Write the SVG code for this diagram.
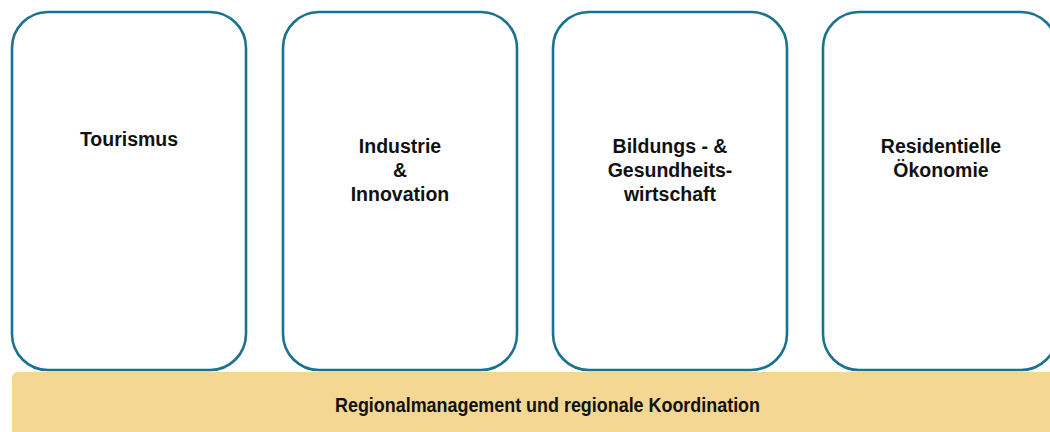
<svg xmlns="http://www.w3.org/2000/svg" width="1050" height="432" viewBox="0 0 1050 432">
<style>
.box{fill:#ffffff;stroke:#1a7290;stroke-width:2.6}
.t{font-family:"Liberation Sans",Arial,sans-serif;font-weight:bold;font-size:19.5px;fill:#111;text-anchor:middle}
.bt{font-family:"Liberation Sans",Arial,sans-serif;font-weight:bold;font-size:19.5px;fill:#111}
</style>
<rect width="1050" height="432" fill="#ffffff"/>
<g id="bar">
<rect x="12" y="372" width="1060" height="70" rx="6" fill="#f4d792"/>
<text class="bt" x="335" y="412" textLength="425" lengthAdjust="spacingAndGlyphs">Regionalmanagement und regionale Koordination</text>
</g>
<g id="tourismus">
<rect class="box" x="12" y="12" width="234" height="358" rx="36"/>
<text class="t" x="129" y="146">Tourismus</text>
</g>
<g id="industrie">
<rect class="box" x="283" y="12" width="234" height="358" rx="36"/>
<text class="t" x="400" y="153">Industrie</text>
<text class="t" x="400" y="177">&amp;</text>
<text class="t" x="400" y="201">Innovation</text>
</g>
<g id="bildung">
<rect class="box" x="553" y="12" width="234" height="358" rx="36"/>
<text class="t" x="670" y="153">Bildungs - &amp;</text>
<text class="t" x="670" y="177">Gesundheits-</text>
<text class="t" x="670" y="201">wirtschaft</text>
</g>
<g id="residentielle">
<rect class="box" x="823" y="12" width="234" height="358" rx="36"/>
<text class="t" x="941" y="153">Residentielle</text>
<text class="t" x="941" y="177">Ökonomie</text>
</g>
<g id="connectors"/>
</svg>
